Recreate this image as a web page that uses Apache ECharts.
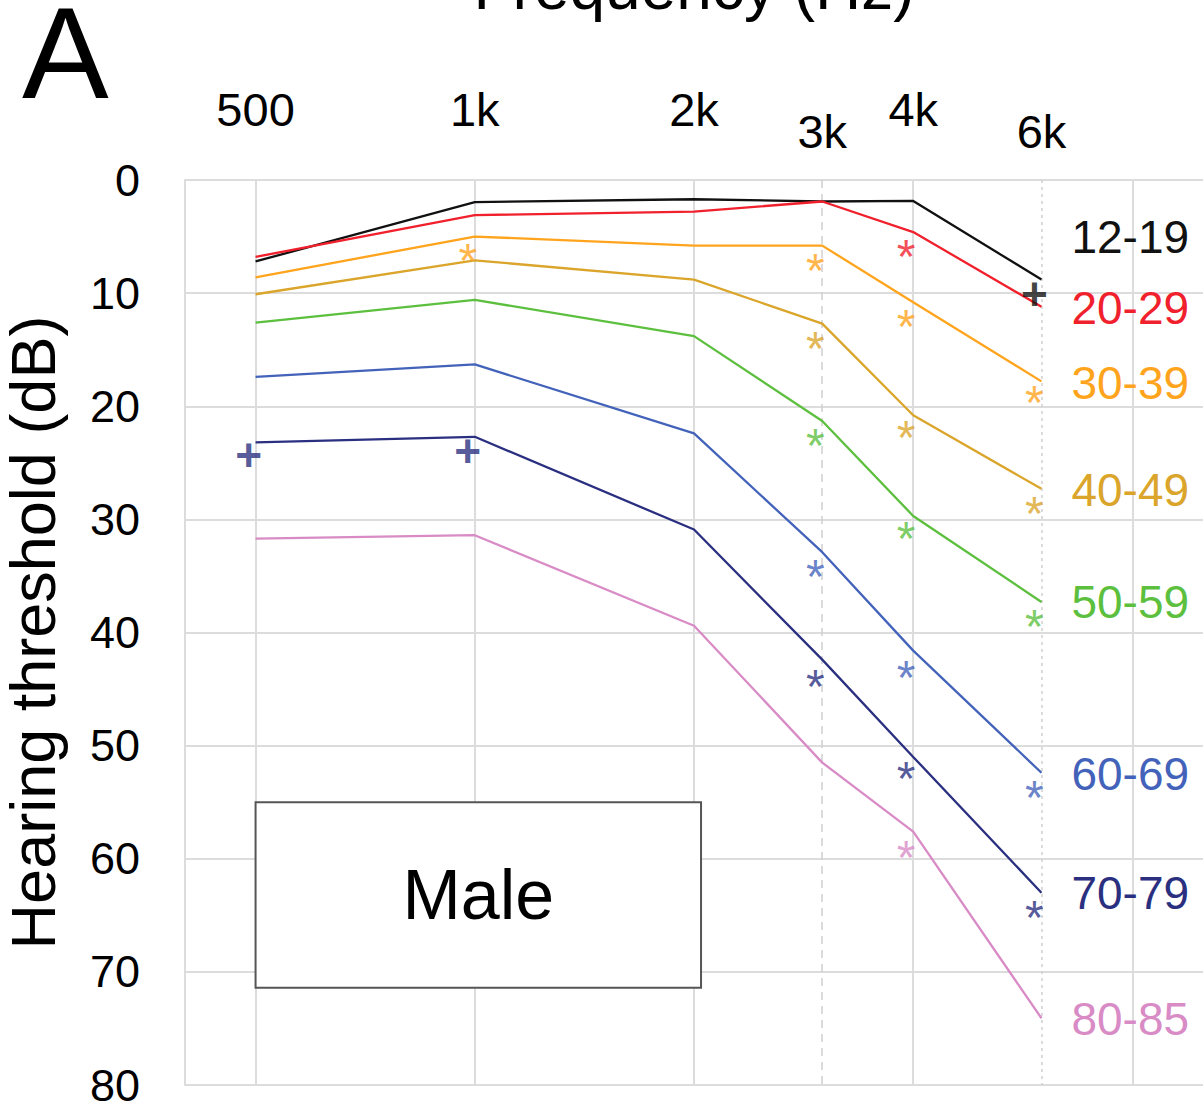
<!DOCTYPE html>
<html>
<head>
<meta charset="utf-8">
<script src="https://cdn.jsdelivr.net/npm/echarts@6/dist/echarts.min.js"></script>
<style>html,body{margin:0;padding:0;background:#fff}#chart{width:1203px;height:1106px}</style>
</head>
<body>
<div id="chart"></div>
<script>
// ---- data ----
const freqs = [500, 1000, 2000, 3000, 4000, 6000];
const ageGroups = ['12-19', '20-29', '30-39', '40-49', '50-59', '60-69', '70-79', '80-85'];
const th1219 = [7.2, 1.95, 1.7, 1.9, 1.85, 8.8];
const th2029 = [6.8, 3.1, 2.8, 1.9, 4.6, 11.2];
const th3039 = [8.6, 5.0, 5.8, 5.8, 10.8, 17.8];
const th4049 = [10.1, 7.1, 8.8, 12.7, 20.8, 27.3];
const th5059 = [12.6, 10.6, 13.8, 21.3, 29.7, 37.3];
const th6069 = [17.4, 16.3, 22.4, 32.9, 41.6, 52.4];
const th7079 = [23.2, 22.7, 30.9, 42.4, 51.0, 63.0];
const th8085 = [31.7, 31.4, 39.4, 51.5, 57.6, 74.1];

// significance markers: [frequency, dB]
const star2029 = [[4000, 5.8]];
const star3039 = [[1000, 6.1], [3000, 7.0], [4000, 12.0], [6000, 18.7]];
const star4049 = [[3000, 13.9], [4000, 21.8], [6000, 28.5]];
const star5059 = [[3000, 22.5], [4000, 30.7], [6000, 38.5]];
const star6069 = [[3000, 34.1], [4000, 43.0], [6000, 53.6]];
const star7079 = [[3000, 43.8], [4000, 51.9], [6000, 64.2]];
const star8085 = [[4000, 58.9]];
const plus1219 = [[6000, 10.0]];
const plus7079 = [[500, 24.2], [1000, 23.9]];

// axis ticks
const xTickMain = [500, 1000, 2000, 4000];
const xTickMainLabels = ['500', '1k', '2k', '4k'];
const xTickLow = [3000, 6000];
const xTickLowLabels = ['3k', '6k'];
const xGridSolid = [500, 1000, 2000, 4000, 8000];
const xGridDashed = [3000];
const xGridDotted = [6000];
const yTickLabels = ['0', '10', '20', '30', '40', '50', '60', '70', '80'];
const maleBox = [[500, 55.0], [2045, 71.4]];

// ---- styling ----
const FONT = "'Liberation Sans', Arial, Helvetica, sans-serif";
const colors = ['#111111', '#f0202c', '#ffa41c', '#daa52a', '#5cbf3e', '#4362ba', '#2a2f80', '#d98bc6'];
const series = [];
const lines = [th1219, th2029, th3039, th4049, th5059, th6069, th7079, th8085];
const endOffsets = [[0, -43], [0, 1], [0, 2], [0, 1], [0, 0], [0, 1], [0, 0], [0, 1]];

// helper series: vertical gridlines
series.push({
  type: 'line', data: [], z: 1, silent: true, animation: false,
  markLine: {
    z: 1, silent: true, symbol: ['none', 'none'], animation: false,
    label: { show: false },
    data: xGridSolid.map(v => ({ xAxis: v, lineStyle: { color: '#dcdcdc', width: 2, type: 'solid' } }))
      .concat(xGridDashed.map(v => ({ xAxis: v, lineStyle: { color: '#cfcfcf', width: 1.5, type: [8, 6] } })))
      .concat(xGridDotted.map(v => ({ xAxis: v, lineStyle: { color: '#cfcfcf', width: 1.5, type: [3, 4] } })))
  }
});
// Male box
series.push({
  type: 'line', data: [], z: 6, silent: true, animation: false,
  markArea: {
    z: 6, silent: true,
    itemStyle: { color: '#ffffff', opacity: 1, borderColor: '#555555', borderWidth: 2 },
    label: { show: true, position: 'inside', formatter: 'Male', fontSize: 70, color: '#000', fontFamily: FONT },
    data: [[{ coord: maleBox[0] }, { coord: maleBox[1] }]]
  }
});

lines.forEach((arr, i) => {
  series.push({
    name: ageGroups[i], type: 'line', z: 4, animation: false,
    data: freqs.map((f, j) => [f, arr[j]]),
    showSymbol: false, symbol: 'none',
    lineStyle: { color: colors[i], width: 2.3 },
    itemStyle: { color: colors[i] },
    endLabel: {
      show: true, formatter: ageGroups[i], color: colors[i], fontSize: 46, fontFamily: FONT,
      distance: 30, offset: endOffsets[i]
    }
  });
});

function markerSeries(data, color, ch) {
  const isStar = ch === '*';
  return {
    type: 'scatter', z: 5, animation: false, silent: true,
    data: data,
    symbolSize: 1,
    itemStyle: { color: 'rgba(0,0,0,0)' },
    label: {
      show: true, position: 'inside', formatter: ch, color: color,
      fontSize: isStar ? 48 : 46, fontWeight: isStar ? 'normal' : 'bold', fontFamily: FONT,
      offset: isStar ? [-7, 11] : [-7, 1]
    }
  };
}
series.push(markerSeries(star2029, colors[1], '*'));
series.push(markerSeries(star3039, colors[2], '*'));
series.push(markerSeries(star4049, colors[3], '*'));
series.push(markerSeries(star5059, colors[4], '*'));
series.push(markerSeries(star6069, colors[5], '*'));
series.push(markerSeries(star7079, colors[6], '*'));
series.push(markerSeries(star8085, colors[7], '*'));
series.push(markerSeries(plus1219, colors[0], '+'));
series.push(markerSeries(plus7079, colors[6], '+'));

const chart = echarts.init(document.getElementById('chart'), null, { renderer: 'svg' });
chart.setOption({
  backgroundColor: '#ffffff',
  animation: false,
  textStyle: { fontFamily: FONT },
  grid: { left: 185, top: 180, right: 0, bottom: 21, containLabel: false, outerBoundsMode: 'none' },
  xAxis: [
    {
      type: 'log', logBase: 2, min: 400, max: 10000, position: 'top',
      axisLine: { show: true, lineStyle: { color: '#dcdcdc', width: 2 } },
      axisTick: { show: false },
      splitLine: { show: false },
      axisLabel: {
        show: true, customValues: xTickMain, fontSize: 47, color: '#000', margin: 47, fontFamily: FONT,
        formatter: v => xTickMainLabels[xTickMain.indexOf(Math.round(v))] || ''
      }
    },
    {
      type: 'log', logBase: 2, min: 400, max: 10000, position: 'top',
      axisLine: { show: false },
      axisTick: { show: false },
      splitLine: { show: false },
      axisLabel: {
        show: true, customValues: xTickLow, fontSize: 47, color: '#000', margin: 25, fontFamily: FONT,
        formatter: v => xTickLowLabels[xTickLow.indexOf(Math.round(v))] || ''
      }
    }
  ],
  yAxis: {
    type: 'value', inverse: true, min: 0, max: 80, interval: 10,
    name: 'Hearing threshold (dB)', nameLocation: 'middle', nameGap: 121,
    nameTextStyle: { fontSize: 63, color: '#000', fontFamily: FONT },
    axisLine: { show: true, lineStyle: { color: '#dcdcdc', width: 2 } },
    axisTick: { show: false },
    splitLine: { show: true, lineStyle: { color: '#dcdcdc', width: 2 } },
    axisLabel: {
      fontSize: 45, color: '#000', margin: 45, fontFamily: FONT,
      formatter: v => yTickLabels[Math.round(v / 10)]
    }
  },
  graphic: [
    { type: 'text', z: 10, x: 22, y: -12, style: { text: 'A', font: "130px " + FONT, fill: '#000', align: 'left', verticalAlign: 'top' } },
    { type: 'text', z: 10, x: 694, y: -13, style: { text: 'Frequency (Hz)', font: "64px " + FONT, fill: '#000', align: 'center', verticalAlign: 'middle' } }
  ],
  series: series
});
</script>
</body>
</html>
